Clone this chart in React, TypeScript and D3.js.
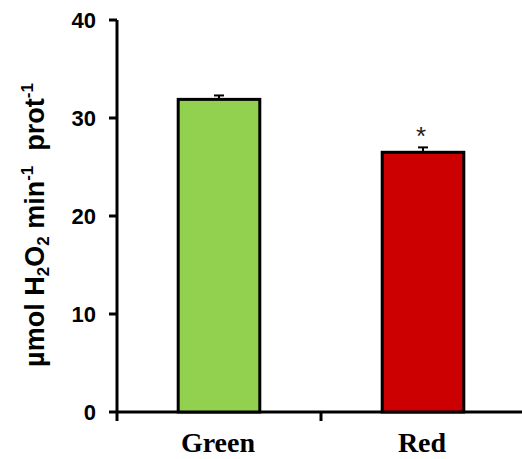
import React from "react";
import * as d3 from "d3";

const categories = ["Green", "Red"];
const values = [31.9, 26.5];
const errors = [0.4, 0.5];
const colors = ["#92D050", "#CC0000"];
const significance = ["", "*"];
const yTicks = [0, 10, 20, 30, 40];

export default function App() {
  const W = 522, H = 459;
  const x0 = 117, x1 = 525;
  const y = d3.scaleLinear().domain([0, 40]).range([412, 20]);
  const x = d3.scaleBand().domain(categories).range([x0, x1]).padding(0);
  const bw = x.bandwidth() * 0.4;
  return (
    <svg width={W} height={H} style={{ position: "absolute", left: 0, top: 0 }}>
      {/* y axis */}
      <line x1={x0} x2={x0} y1={y(40)} y2={421} stroke="#000" strokeWidth={3} />
      {yTicks.map((t) => (
        <g key={t}>
          <line x1={x0 - 8} x2={x0} y1={y(t)} y2={y(t)} stroke="#000" strokeWidth={3} />
          <text x={96} y={y(t)} dy="0.36em" textAnchor="end" fontFamily="Liberation Sans, Arial" fontWeight="bold" fontSize={22} fill="#000">{t}</text>
        </g>
      ))}
      {/* x axis */}
      <line x1={x0} x2={W} y1={y(0)} y2={y(0)} stroke="#000" strokeWidth={3} />
      {categories.slice(1).map((c) => (
        <line key={c} x1={x(c)!} x2={x(c)!} y1={y(0)} y2={421} stroke="#000" strokeWidth={3} />
      ))}
      {categories.map((c, i) => {
        const cx = x(c)! + x.bandwidth() / 2;
        return (
          <g key={c}>
            <rect x={cx - bw / 2} y={y(values[i])} width={bw} height={y(0) - y(values[i])} fill={colors[i]} stroke="#000" strokeWidth={3} />
            <line x1={cx} x2={cx} y1={y(values[i])} y2={y(values[i] + errors[i])} stroke="#000" strokeWidth={2} />
            <line x1={cx - 5} x2={cx + 5} y1={y(values[i] + errors[i])} y2={y(values[i] + errors[i])} stroke="#000" strokeWidth={2} />
            {significance[i] && (
              <text x={cx - 2} y={y(values[i] + errors[i]) - 2} textAnchor="middle" fontFamily="Liberation Sans, Arial" fontSize={26} fill="#222">{significance[i]}</text>
            )}
            <text x={cx - 1} y={452} textAnchor="middle" fontFamily="Liberation Serif, Times New Roman" fontWeight="bold" fontSize={28} fill="#000">{c}</text>
          </g>
        );
      })}
      {/* y label */}
      <text transform={`translate(44,${225}) rotate(-90)`} textAnchor="middle" fontFamily="Liberation Sans, Arial" fontWeight="bold" fontSize={27} fill="#000" style={{ whiteSpace: "pre" }}>
        µmol H<tspan fontSize={17} dy={5}>2</tspan><tspan dy={-5}>O</tspan><tspan fontSize={17} dy={5}>2</tspan><tspan dy={-5}> min</tspan><tspan fontSize={17} dy={-11}>-1</tspan><tspan dy={11}>{"  prot"}</tspan><tspan fontSize={17} dy={-11}>-1</tspan>
      </text>
    </svg>
  );
}
